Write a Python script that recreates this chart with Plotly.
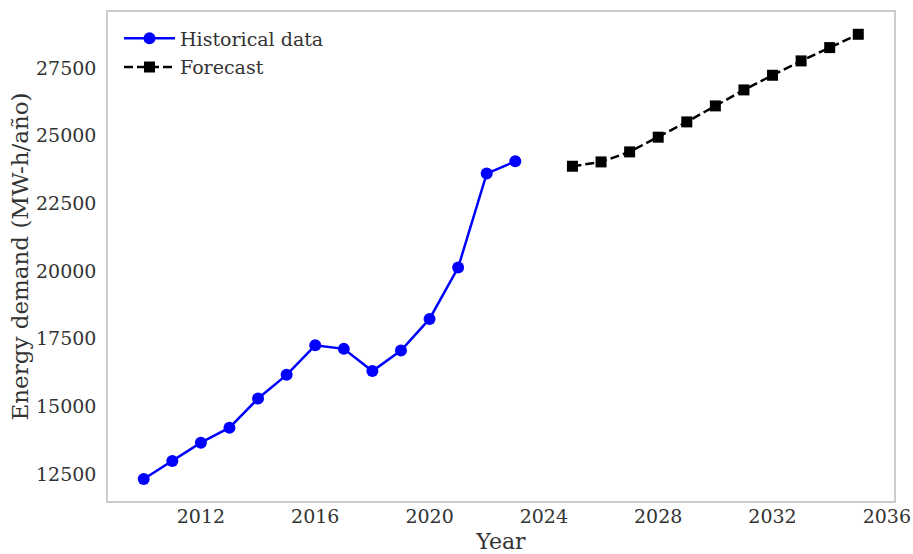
import plotly.graph_objects as go

# Historical energy demand
hist_years = list(range(2010, 2024))
hist_demand = [12315, 12980, 13656, 14210, 15285, 16160, 17253, 17120,
               16300, 17057, 18225, 20122, 23595, 24050]

# Forecast energy demand
fc_years = list(range(2025, 2036))
fc_demand = [23867, 24027, 24397, 24940, 25505, 26096, 26687, 27228,
             27758, 28250, 28742]

x_ticks = [2012, 2016, 2020, 2024, 2028, 2032, 2036]
y_ticks = [12500, 15000, 17500, 20000, 22500, 25000, 27500]

FONT = "DejaVu Serif"
TXT = "#333333"

fig = go.Figure()
fig.add_trace(go.Scatter(
    x=hist_years, y=hist_demand, mode="lines+markers",
    name="Historical data", legendgroup="hist",
    line=dict(color="#0000ff", width=2.5),
    marker=dict(symbol="circle", size=12, color="#0000ff"),
))
fig.add_trace(go.Scatter(
    x=fc_years, y=fc_demand, mode="lines+markers",
    name="Forecast", legendgroup="fc",
    line=dict(color="#000000", width=2.5, dash="9px,4px"),
    marker=dict(symbol="square", size=11, color="#000000"),
))

fig.update_layout(
    width=913, height=554,
    margin=dict(l=108, r=19, t=12, b=53),
    paper_bgcolor="white", plot_bgcolor="white",
    font=dict(family=FONT, size=19, color=TXT),
    showlegend=True,
    legend=dict(
        x=0.014, y=0.985, xanchor="left", yanchor="top",
        bgcolor="rgba(255,255,255,0)", borderwidth=0,
        font=dict(family=FONT, size=19, color=TXT),
        tracegroupgap=1, itemwidth=51,
    ),
)
fig.update_xaxes(
    range=[2008.75, 2036.25], tickvals=x_ticks, tickformat="d",
    showgrid=False, zeroline=False, automargin=False,
    showline=True, linecolor="#cccccc", linewidth=1.5, mirror=True,
    ticks="", ticklabelstandoff=-3,
    tickfont=dict(family=FONT, size=19, color=TXT),
    title=dict(text="Year", font=dict(family=FONT, size=22, color=TXT), standoff=14),
)
fig.update_yaxes(
    range=[11500, 29565], tickvals=y_ticks, tickformat="d",
    showgrid=False, zeroline=False, automargin=False,
    showline=True, linecolor="#cccccc", linewidth=1.5, mirror=True,
    ticks="", ticklabelstandoff=6,
    tickfont=dict(family=FONT, size=19, color=TXT),
    title=dict(text="Energy demand (MW-h/año)", font=dict(family=FONT, size=23, color=TXT), standoff=1),
)

fig.write_html("out.html")
